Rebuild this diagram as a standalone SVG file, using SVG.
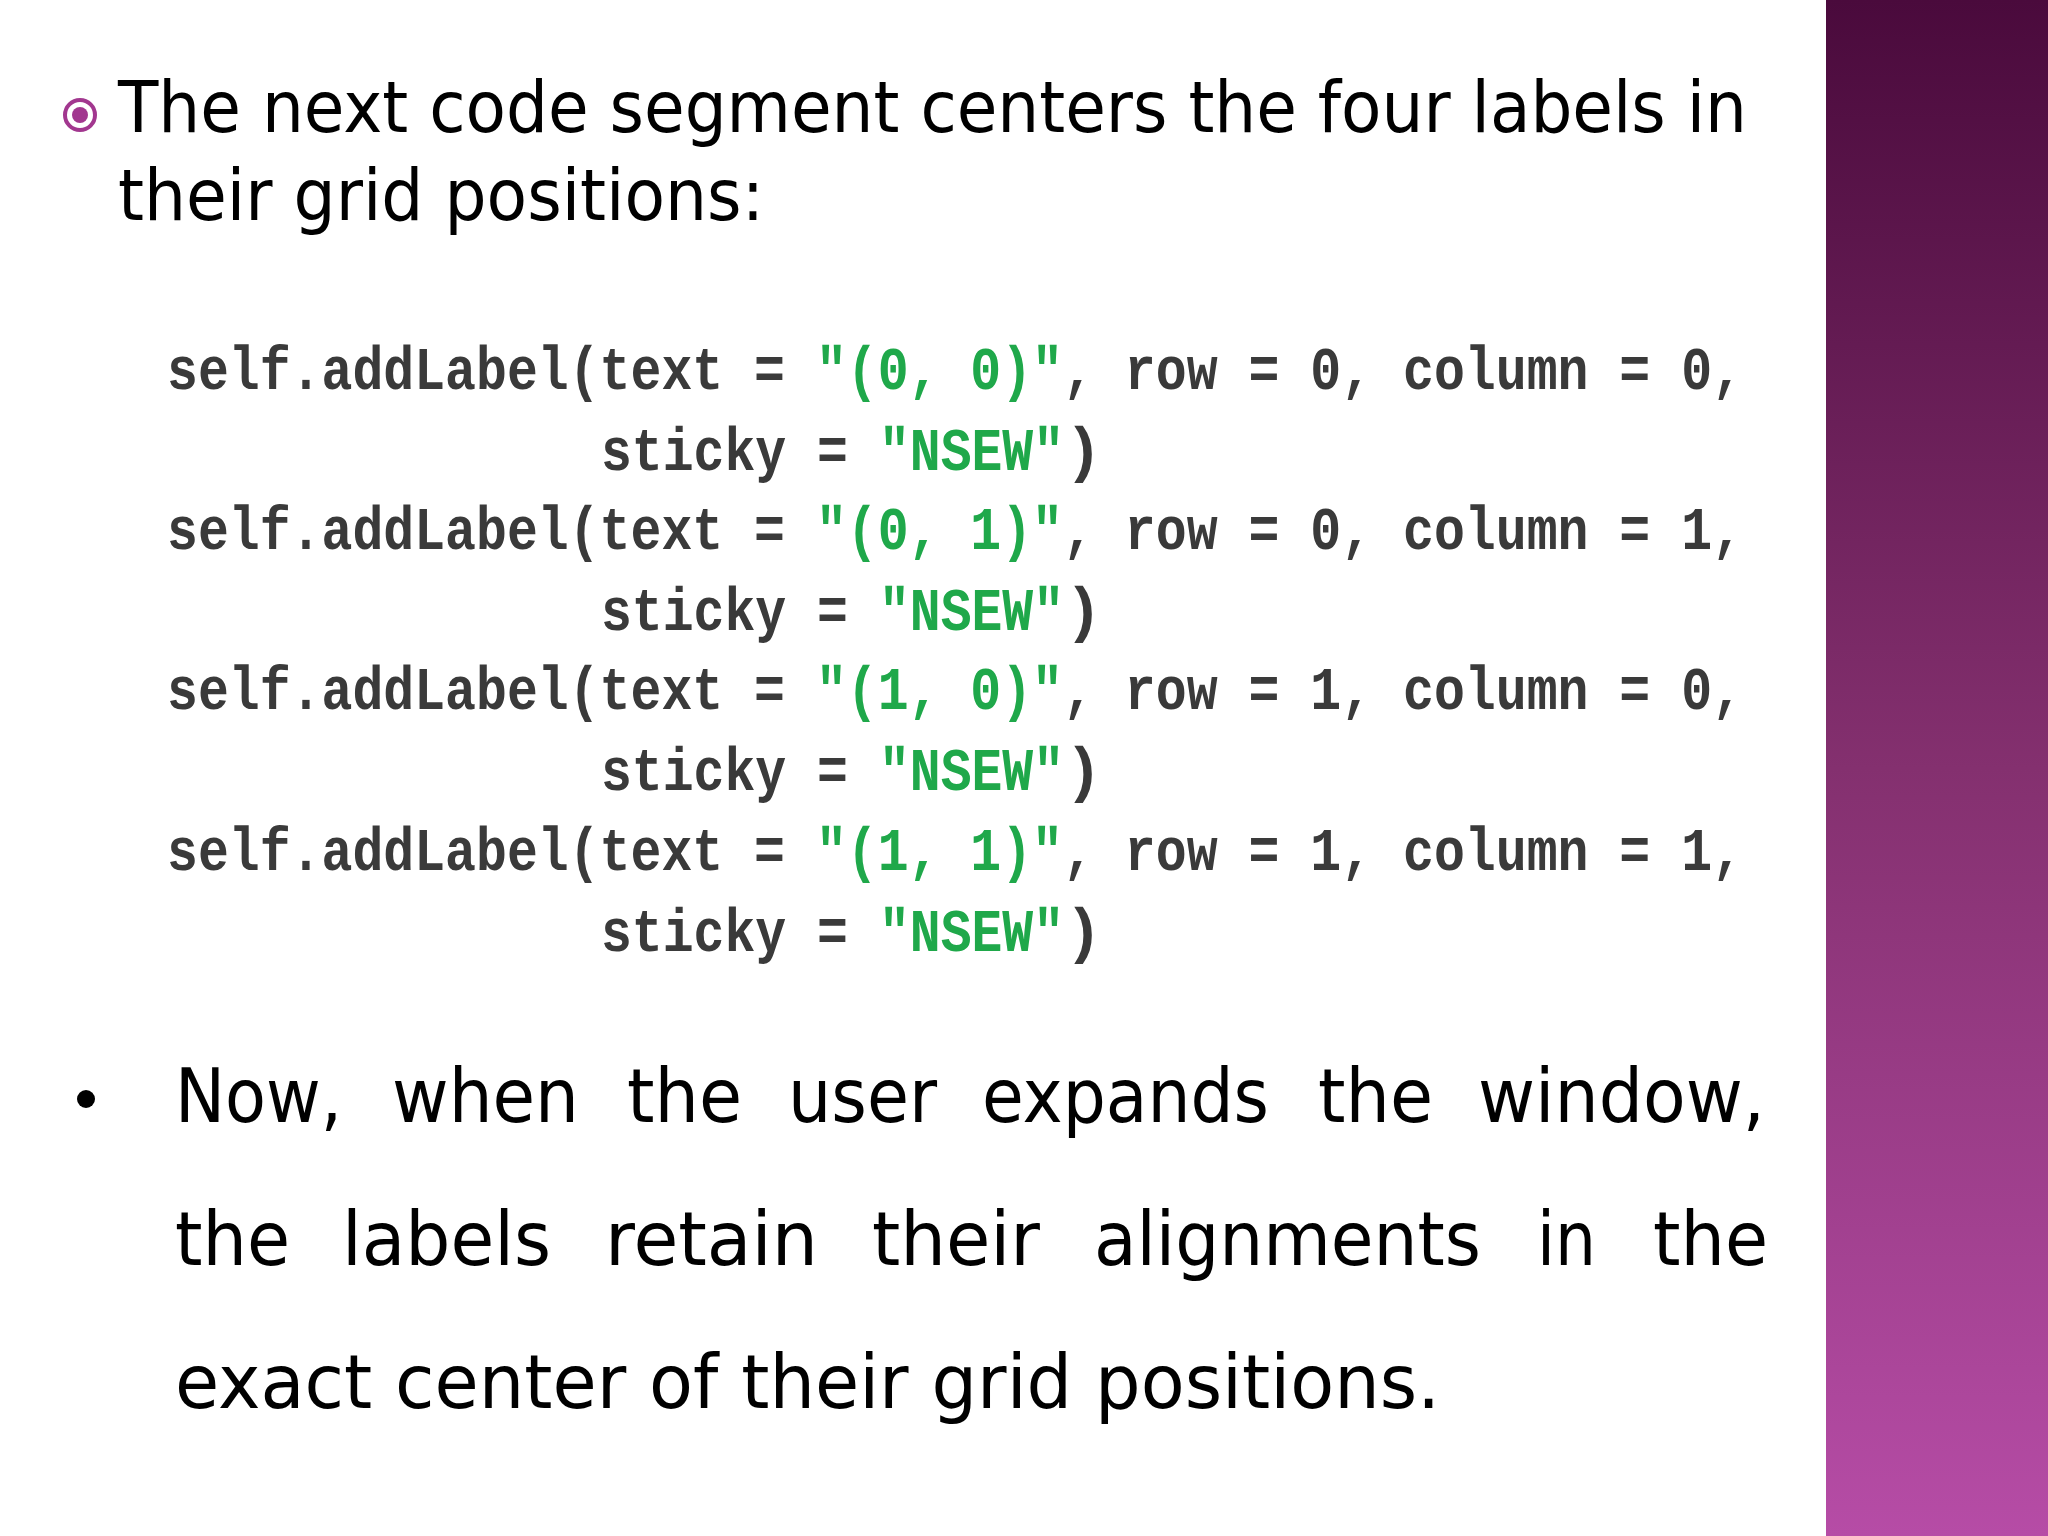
<svg xmlns="http://www.w3.org/2000/svg" width="2048" height="1536" viewBox="0 0 2048 1536">
<defs>
<linearGradient id="band" x1="0" y1="0" x2="0" y2="1">
<stop offset="0" stop-color="#4a0a3c"/>
<stop offset="0.5" stop-color="#84306f"/>
<stop offset="1" stop-color="#b64ca6"/>
</linearGradient>
<style>
.t{font-family:"DejaVu Sans","Open Sans",sans-serif;font-size:72px;fill:#000}
.p{font-family:"DejaVu Sans","Open Sans",sans-serif;font-size:74px;fill:#000}
.c{font-family:"Liberation Mono",monospace;font-size:62px;font-weight:bold;fill:#3a3a3a}
.g{fill:#1fa84a}
</style>
</defs>
<rect width="2048" height="1536" fill="#fff"/>
<rect x="1826" y="0" width="222" height="1536" fill="url(#band)"/>
<g id="title">
<circle cx="80" cy="115" r="15" fill="none" stroke="#a2378f" stroke-width="4"/>
<circle cx="80" cy="115" r="8" fill="#a2378f"/>
<text class="t" x="118" y="132" textLength="1629" lengthAdjust="spacingAndGlyphs">The next code segment centers the four labels in</text>
<text class="t" x="118" y="220" textLength="646" lengthAdjust="spacingAndGlyphs">their grid positions:</text>
</g>
<g id="code">
<text class="c" x="167" y="389" textLength="618" lengthAdjust="spacingAndGlyphs">self.addLabel(text =</text>
<text class="c g" x="816" y="389" textLength="247" lengthAdjust="spacingAndGlyphs">"(0, 0)"</text>
<text class="c" x="1063" y="389" textLength="680" lengthAdjust="spacingAndGlyphs">, row = 0, column = 0,</text>
<text class="c" x="601" y="470" textLength="247" lengthAdjust="spacingAndGlyphs">sticky =</text>
<text class="c g" x="879" y="470" textLength="185" lengthAdjust="spacingAndGlyphs">"NSEW"</text>
<text class="c" x="1065" y="470">)</text>

<text class="c" x="167" y="549" textLength="618" lengthAdjust="spacingAndGlyphs">self.addLabel(text =</text>
<text class="c g" x="816" y="549" textLength="247" lengthAdjust="spacingAndGlyphs">"(0, 1)"</text>
<text class="c" x="1063" y="549" textLength="680" lengthAdjust="spacingAndGlyphs">, row = 0, column = 1,</text>
<text class="c" x="601" y="630" textLength="247" lengthAdjust="spacingAndGlyphs">sticky =</text>
<text class="c g" x="879" y="630" textLength="185" lengthAdjust="spacingAndGlyphs">"NSEW"</text>
<text class="c" x="1065" y="630">)</text>

<text class="c" x="167" y="709" textLength="618" lengthAdjust="spacingAndGlyphs">self.addLabel(text =</text>
<text class="c g" x="816" y="709" textLength="247" lengthAdjust="spacingAndGlyphs">"(1, 0)"</text>
<text class="c" x="1063" y="709" textLength="680" lengthAdjust="spacingAndGlyphs">, row = 1, column = 0,</text>
<text class="c" x="601" y="790" textLength="247" lengthAdjust="spacingAndGlyphs">sticky =</text>
<text class="c g" x="879" y="790" textLength="185" lengthAdjust="spacingAndGlyphs">"NSEW"</text>
<text class="c" x="1065" y="790">)</text>

<text class="c" x="167" y="870" textLength="618" lengthAdjust="spacingAndGlyphs">self.addLabel(text =</text>
<text class="c g" x="816" y="870" textLength="247" lengthAdjust="spacingAndGlyphs">"(1, 1)"</text>
<text class="c" x="1063" y="870" textLength="680" lengthAdjust="spacingAndGlyphs">, row = 1, column = 1,</text>
<text class="c" x="601" y="951" textLength="247" lengthAdjust="spacingAndGlyphs">sticky =</text>
<text class="c g" x="879" y="951" textLength="185" lengthAdjust="spacingAndGlyphs">"NSEW"</text>
<text class="c" x="1065" y="951">)</text>
</g>
<g id="para">
<circle cx="86" cy="1099" r="9" fill="#000"/>
<text class="p" x="175" y="1122" textLength="167" lengthAdjust="spacingAndGlyphs">Now,</text>
<text class="p" x="392" y="1122" textLength="187" lengthAdjust="spacingAndGlyphs">when</text>
<text class="p" x="627" y="1122" textLength="115" lengthAdjust="spacingAndGlyphs">the</text>
<text class="p" x="788" y="1122" textLength="149" lengthAdjust="spacingAndGlyphs">user</text>
<text class="p" x="982" y="1122" textLength="287" lengthAdjust="spacingAndGlyphs">expands</text>
<text class="p" x="1318" y="1122" textLength="115" lengthAdjust="spacingAndGlyphs">the</text>
<text class="p" x="1478" y="1122" textLength="287" lengthAdjust="spacingAndGlyphs">window,</text>
<text class="p" x="175" y="1265" textLength="115" lengthAdjust="spacingAndGlyphs">the</text>
<text class="p" x="342" y="1265" textLength="209" lengthAdjust="spacingAndGlyphs">labels</text>
<text class="p" x="605" y="1265" textLength="213" lengthAdjust="spacingAndGlyphs">retain</text>
<text class="p" x="872" y="1265" textLength="168" lengthAdjust="spacingAndGlyphs">their</text>
<text class="p" x="1094" y="1265" textLength="387" lengthAdjust="spacingAndGlyphs">alignments</text>
<text class="p" x="1537" y="1265" textLength="59" lengthAdjust="spacingAndGlyphs">in</text>
<text class="p" x="1653" y="1265" textLength="115" lengthAdjust="spacingAndGlyphs">the</text>
<text class="p" x="175" y="1408" textLength="1265" lengthAdjust="spacingAndGlyphs">exact center of their grid positions.</text>
</g>
</svg>
